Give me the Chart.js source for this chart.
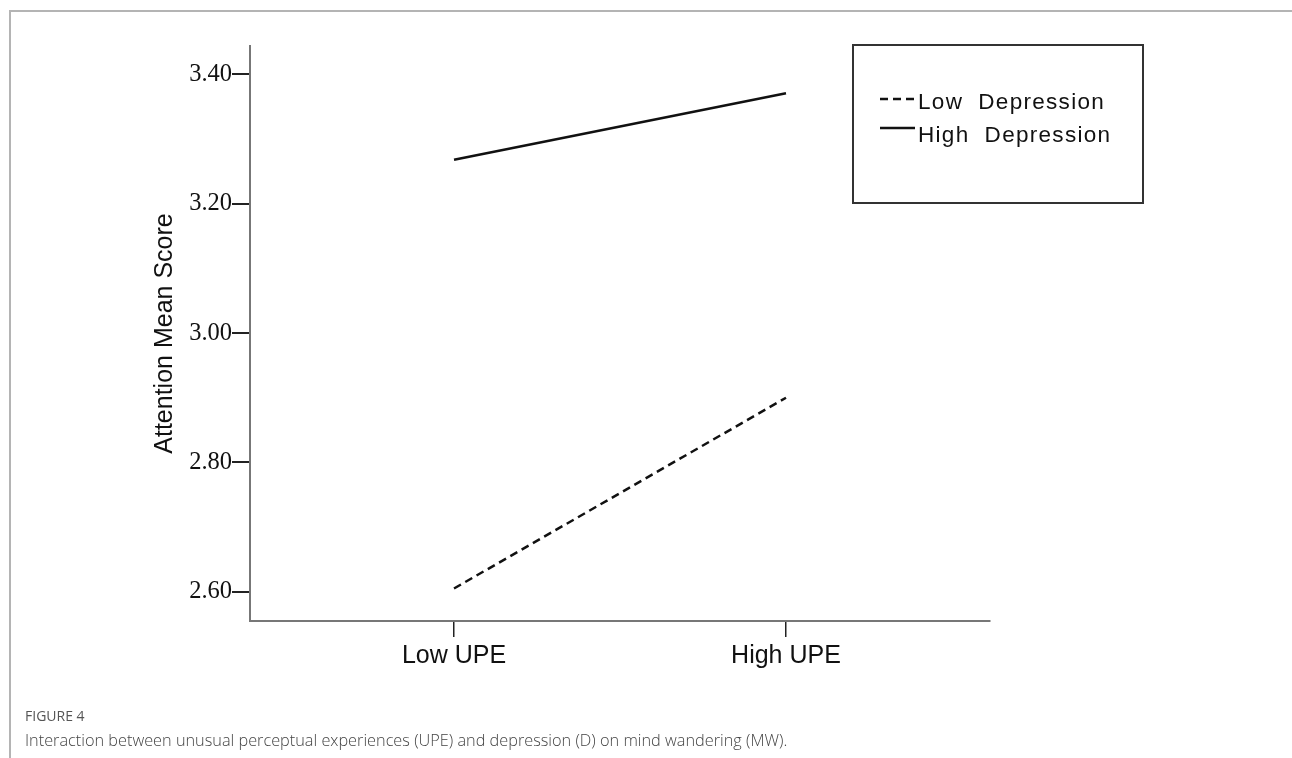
<!DOCTYPE html>
<html>
<head>
<meta charset="utf-8">
<script src="https://cdn.jsdelivr.net/npm/chart.js@4.4.1/dist/chart.umd.min.js"></script>
<style>
  html, body { margin: 0; padding: 0; background: #fff; }
  body { width: 1292px; height: 758px; position: relative; overflow: hidden; }
  #frame { position: absolute; left: 9px; top: 10px; right: 0; bottom: -2px;
           border-top: 2px solid #b4b4b4; border-left: 2px solid #b4b4b4; }
  #wrap { position: absolute; left: 0; top: 0; width: 1292px; height: 758px; }
  #figlabel { position: absolute; left: 25px; top: 706px; font-family: "Open Sans", sans-serif;
              font-size: 14px; color: #555; }
  #caption { position: absolute; left: 25px; top: 729px; font-family: "Open Sans", sans-serif;
             font-size: 16.3px; font-weight: 300; color: #444; }
</style>
</head>
<body>
<div id="frame"></div>
<div id="wrap"><canvas id="chart" width="1292" height="758"></canvas></div>
<div id="figlabel">FIGURE 4</div>
<div id="caption">Interaction between unusual perceptual experiences (UPE) and depression (D) on mind wandering (MW).</div>
<script>
// Categories on the horizontal axis
const categories = ['Low UPE', 'High UPE'];
// Series: estimated attention mean scores
const lowDepression = [2.605, 2.900];
const highDepression = [3.268, 3.371];
const seriesNames = ['Low Depression', 'High Depression'];
// Tick values on the score axis
const yTicks = [2.60, 2.80, 3.00, 3.20, 3.40];

const toPoints = arr => arr.map((v, i) => ({ x: i, y: v }));

// Framed legend inside the upper-right corner of the plot
const boxedLegend = {
  id: 'boxedLegend',
  afterDraw(chart) {
    const ctx = chart.ctx;
    ctx.save();
    ctx.strokeStyle = '#333';
    ctx.lineWidth = 2;
    ctx.strokeRect(853, 45, 290, 158);
    ctx.font = '22.5px "Liberation Sans", Arial, sans-serif';
    ctx.letterSpacing = '1.3px';
    ctx.fillStyle = '#111';
    ctx.textBaseline = 'alphabetic';
    const rows = [{ y: 99, base: 109 }, { y: 128, base: 142 }];
    chart.data.datasets.forEach((ds, i) => {
      const r = rows[i];
      ctx.beginPath();
      ctx.setLineDash(ds.borderDash || []);
      ctx.strokeStyle = '#111';
      ctx.lineWidth = ds.borderWidth;
      ctx.moveTo(880, r.y);
      ctx.lineTo(915, r.y);
      ctx.stroke();
      ctx.setLineDash([]);
      ctx.fillText(ds.label.replace(' ', '  '), 918, r.base);
    });
    ctx.restore();
  }
};

new Chart(document.getElementById('chart'), {
  type: 'line',
  data: {
    datasets: [
      { label: seriesNames[0], data: toPoints(lowDepression), borderColor: '#111',
        borderWidth: 2.5, borderDash: [8, 5], pointRadius: 0, fill: false, tension: 0 },
      { label: seriesNames[1], data: toPoints(highDepression), borderColor: '#111',
        borderWidth: 2.5, pointRadius: 0, fill: false, tension: 0 }
    ]
  },
  options: {
    responsive: false,
    animation: false,
    layout: { padding: { left: 0, top: 46, right: 302, bottom: 0 } },
    plugins: { legend: { display: false }, tooltip: { enabled: false } },
    scales: {
      x: {
        type: 'linear',
        min: -0.6145,
        max: 1.6145,
        afterBuildTicks: s => { s.ticks = categories.map((_, i) => ({ value: i })); },
        afterFit: s => { s.height = 137; },
        ticks: {
          callback: v => categories[v],
          font: { family: '"Liberation Sans", Arial, sans-serif', size: 25 },
          color: '#111',
          padding: 4,
          maxRotation: 0
        },
        grid: { drawOnChartArea: false, drawTicks: true, tickLength: 16, color: '#222', lineWidth: 1.5 },
        border: { display: true, color: '#777', width: 2 }
      },
      y: {
        min: 2.5547,
        max: 3.444,
        afterBuildTicks: s => { s.ticks = yTicks.map(v => ({ value: v })); },
        afterFit: s => { s.width = 250; },
        ticks: {
          callback: v => v.toFixed(2),
          font: { family: '"Liberation Serif", "Times New Roman", serif', size: 24.5 },
          color: '#111',
          padding: 0
        },
        grid: { drawOnChartArea: false, drawTicks: true, tickLength: 18, color: '#222', lineWidth: 2 },
        border: { display: true, color: '#777', width: 2 },
        title: {
          display: true,
          text: 'Attention Mean Score',
          font: { family: '"Liberation Sans", Arial, sans-serif', size: 25 },
          color: '#111',
          padding: { top: 150, bottom: 0 }
        }
      }
    }
  },
  plugins: [boxedLegend]
});
</script>
</body>
</html>
